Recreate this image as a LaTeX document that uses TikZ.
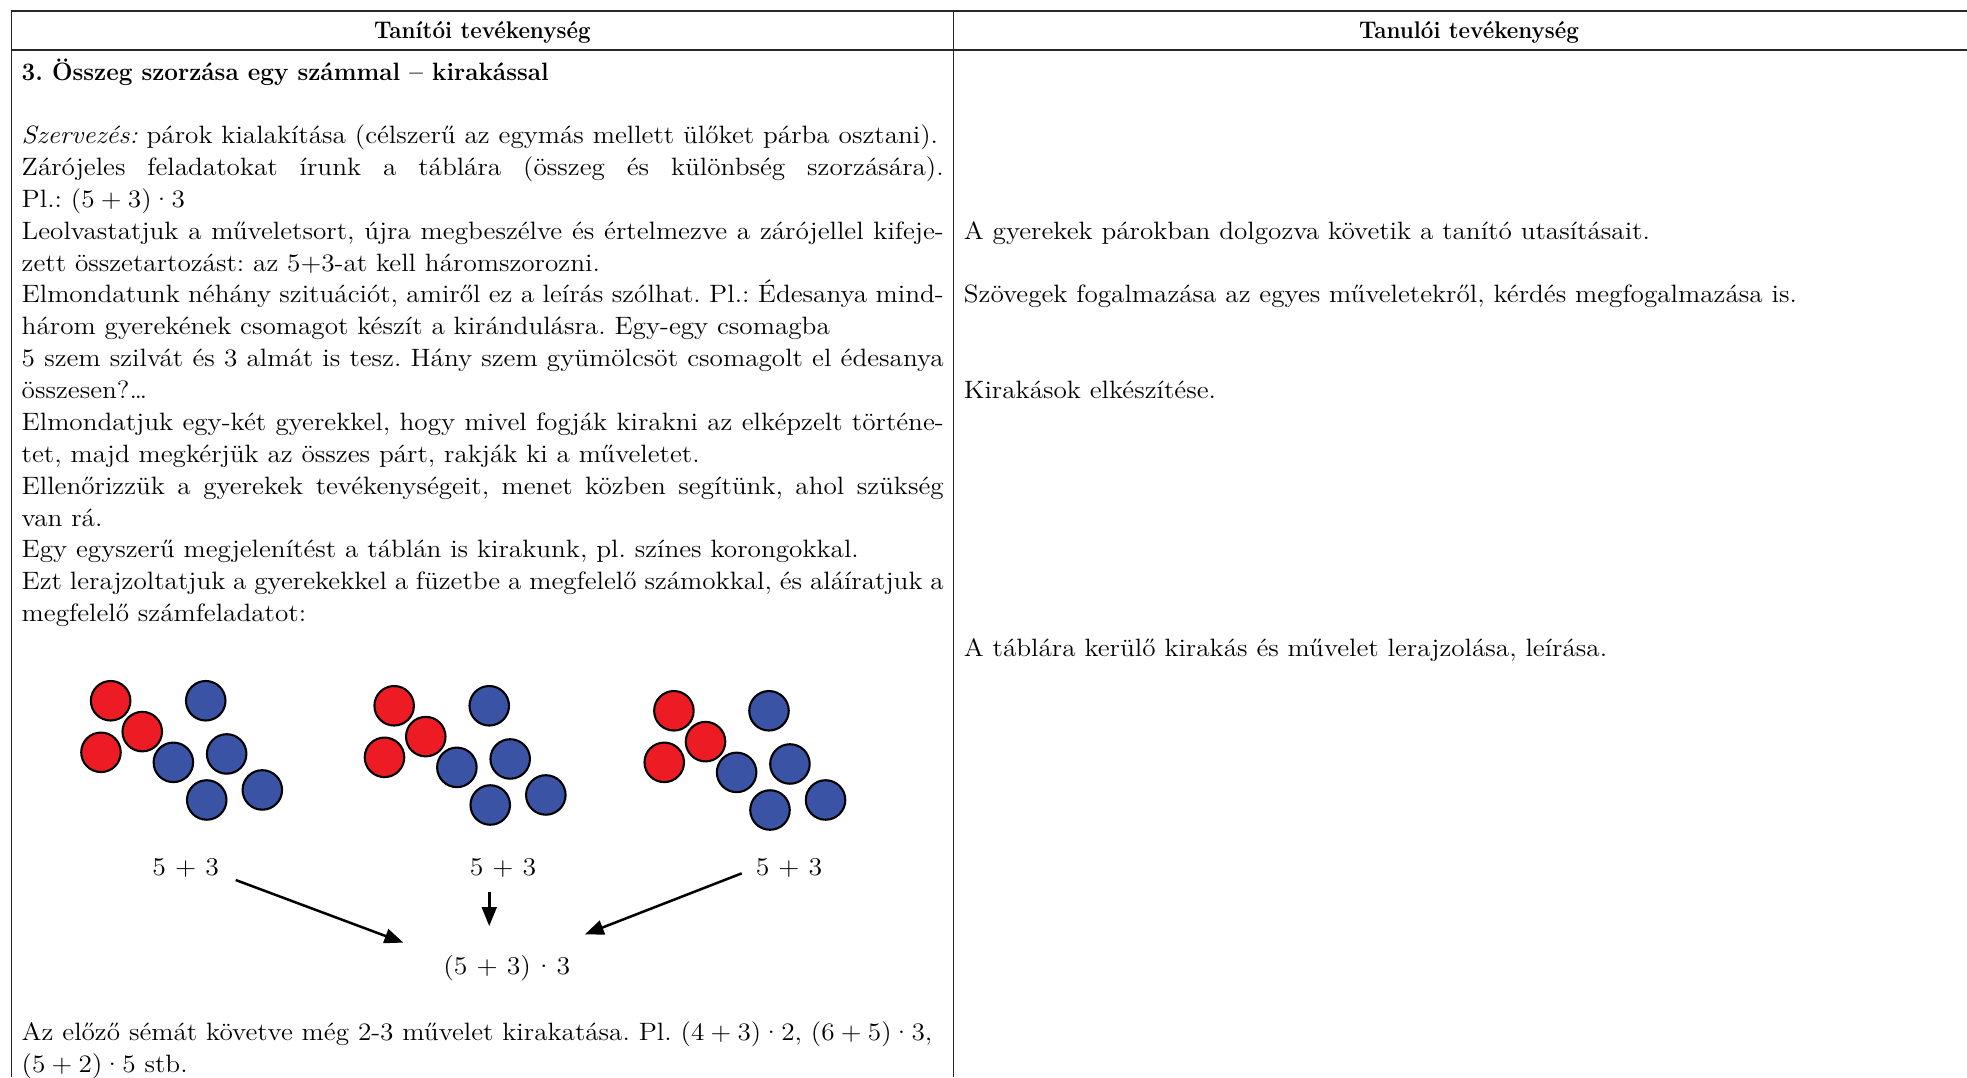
\documentclass[tikz,border=0pt]{standalone}
\usepackage{fontspec}
\setmainfont{Latin Modern Roman}[FakeStretch=1.085]
\usetikzlibrary{arrows.meta}
\definecolor{dred}{HTML}{ED1C24}
\definecolor{dblue}{HTML}{3A53A4}
\newcommand\jline[1]{\makebox[441pt][s]{#1}}
\newcommand\mydot{\raisebox{0.27em}{.}}
\newcommand\ts{\hspace{0.25em}}
\tikzset{
  body/.style={anchor=base west, inner sep=0pt, font=\fontsize{12}{15}\selectfont},
  hdr/.style={anchor=base, inner sep=0pt, font=\fontsize{11.5}{13}\selectfont\bfseries},
  lbl/.style={anchor=base, inner sep=0pt, font=\fontsize{12.23}{15}\selectfont},
  disc/.style={circle, draw=black, line width=1pt, minimum size=18.9pt, inner sep=0pt},
  rdisc/.style={disc, fill=dred},
  bdisc/.style={disc, fill=dblue},
  hline/.style={line width=1pt, draw=black!85},
  vline/.style={line width=0.6pt, draw=black!85},
  arr/.style={line width=1.2pt, -{Triangle[length=9pt,width=7pt]}}
}
\frenchspacing
\begin{document}
\begin{tikzpicture}[x=0.6pt, y=-0.6pt]
\useasboundingbox (0,0) rectangle (1568,858.6);
% table rules
\coordinate (tl) at (9,9);
\coordinate (tr) at (1568,9);
\coordinate (hl) at (9,39.5);
\coordinate (hr) at (1568,39.5);
\coordinate (bl) at (9,858.6);
\coordinate (mt) at (760,9);
\coordinate (mb) at (760,858.6);
\draw[hline] (tl) -- (tr);
\draw[hline] (hl) -- (hr);
\draw[vline] (tl) -- (bl);
\draw[vline] (mt) -- (mb);
% header
\node[hdr] (h1) at (384.5,31) {\scalebox{0.858}[1]{Tanítói tevékenység}};
\node[hdr] (h2) at (1171,31) {\scalebox{0.858}[1]{Tanulói tevékenység}};
% left column
\node[body, font=\fontsize{12}{15}\selectfont\bfseries] (title) at (17,64) {\scalebox{0.892}[1]{3. Összeg szorzása egy számmal – kirakással}};
\node[body] (l1) at (17,114.5) {\textit{Szervezés:} párok kialakítása (célszerű az egymás mellett ülőket párba osztani).};
\node[body] (l2) at (17,139.9) {\jline{Zárójeles feladatokat írunk a táblára (összeg és különbség szorzására).}};
\node[body] (l3) at (17,165.3) {Pl.: (5\ts+\ts3)\ts\mydot\ts3};
\node[body] (l4) at (17,190.7) {\jline{Leolvastatjuk a műveletsort, újra megbeszélve és értelmezve a zárójellel kifeje-}};
\node[body] (l5) at (17,216.1) {zett összetartozást: az 5+3-at kell háromszorozni.};
\node[body] (l6) at (17,241.5) {\jline{Elmondatunk néhány szituációt, amiről ez a leírás szólhat. Pl.: Édesanya mind-}};
\node[body] (l7) at (17,266.9) {három gyerekének csomagot készít a kirándulásra. Egy-egy csomagba};
\node[body] (l8) at (17,292.3) {\jline{5 szem szilvát és 3 almát is tesz. Hány szem gyümölcsöt csomagolt el édesanya}};
\node[body] (l9) at (17,317.7) {összesen?…};
\node[body] (l10) at (17,343.1) {\jline{Elmondatjuk egy-két gyerekkel, hogy mivel fogják kirakni az elképzelt történe-}};
\node[body] (l11) at (17,368.5) {tet, majd megkérjük az összes párt, rakják ki a műveletet.};
\node[body] (l12) at (17,393.9) {\jline{Ellenőrizzük a gyerekek tevékenységeit, menet közben segítünk, ahol szükség}};
\node[body] (l13) at (17,419.3) {van rá.};
\node[body] (l14) at (17,444.7) {Egy egyszerű megjelenítést a táblán is kirakunk, pl. színes korongokkal.};
\node[body] (l15) at (17,470.1) {\jline{Ezt lerajzoltatjuk a gyerekekkel a füzetbe a megfelelő számokkal, és aláíratjuk a}};
\node[body] (l16) at (17,495.5) {megfelelő számfeladatot:};
\node[body] (l17) at (17,829.5) {Az előző sémát követve még 2-3 művelet kirakatása. Pl. (4\ts+\ts3)\ts\mydot\ts2, (6\ts+\ts5)\ts\mydot\ts3,};
\node[body] (l18) at (17,854.9) {(5\ts+\ts2)\ts\mydot\ts5 stb.};
% right column
\node[body] (r1) at (768,190.7) {A gyerekek párokban dolgozva követik a tanító utasításait.};
\node[body] (r2) at (768,241.5) {Szövegek fogalmazása az egyes műveletekről, kérdés megfogalmazása is.};
\node[body] (r3) at (768,317.7) {Kirakások elkészítése.};
\node[body] (r4) at (768,523) {A táblára kerülő kirakás és művelet lerajzolása, leírása.};
% discs
\foreach \g/\dx/\dy in {a/0/0, b/226/4, c/449/8}{
  \begin{scope}[shift={(\dx,\dy)}]
    \node[rdisc] (\g r1) at (88.2,558.6) {};
    \node[rdisc] (\g r3) at (80.5,599.7) {};
    \node[rdisc] (\g r2) at (113.4,583.2) {};
    \node[bdisc] (\g b1) at (164.0,558.6) {};
    \node[bdisc] (\g b2) at (138.2,607.7) {};
    \node[bdisc] (\g b3) at (180.7,601.0) {};
    \node[bdisc] (\g b4) at (164.8,637.7) {};
    \node[bdisc] (\g b5) at (209.1,629.7) {};
  \end{scope}
}
% labels
\node[lbl] (s1) at (148,698) {5 + 3};
\node[lbl] (s2) at (401,698) {5 + 3};
\node[lbl] (s3) at (629,698) {5 + 3};
\node[lbl] (res) at (404,777) {(5 + 3) \mydot{} 3};
% arrows
\coordinate (a1s) at (187.9,701.5);
\coordinate (a1e) at (321.5,751.4);
\coordinate (a2s) at (390,710.8);
\coordinate (a2e) at (390,738.2);
\coordinate (a3s) at (591.2,696.2);
\coordinate (a3e) at (466.3,744.8);
\draw[arr] (a1s) -- (a1e);
\draw[arr] (a2s) -- (a2e);
\draw[arr] (a3s) -- (a3e);
\end{tikzpicture}
\end{document}
